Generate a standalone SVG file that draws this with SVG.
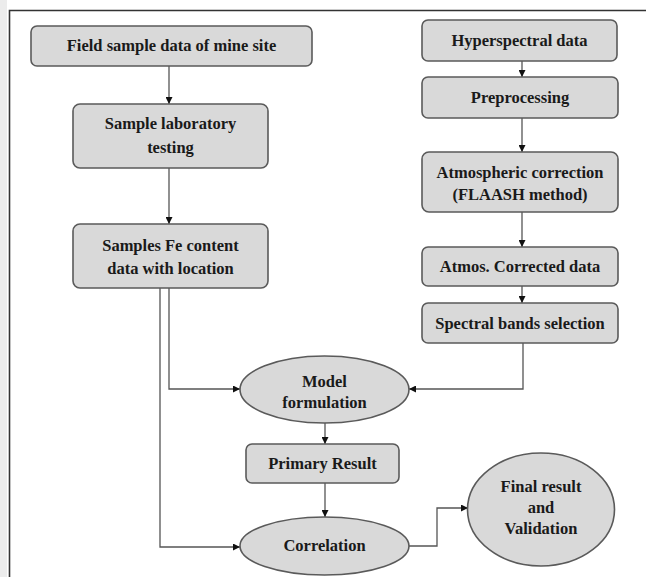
<svg xmlns="http://www.w3.org/2000/svg" width="646" height="577" viewBox="0 0 646 577">
<defs>
<marker id="ah" viewBox="0 0 10 10" refX="10" refY="5" markerWidth="7" markerHeight="7" markerUnits="userSpaceOnUse" orient="auto">
<path d="M0,0 L10,5 L0,10 z" fill="#111"/>
</marker>
</defs>
<style>
.box{fill:#d9d9d9;stroke:#5a5a5a;stroke-width:1.6}
.t{font-family:"Liberation Serif","Times New Roman",serif;font-weight:bold;font-size:16.5px;fill:#1a1a1a;text-anchor:middle}
.c{fill:none;stroke:#555;stroke-width:1.3;marker-end:url(#ah)}
</style>
<rect width="646" height="577" fill="#ffffff"/>
<rect x="0" y="0" width="7" height="577" fill="#ececec"/>
<path d="M9.5,577 V10.5 H646" fill="none" stroke="#333" stroke-width="1.6"/>

<g id="connectors">
<path class="c" d="M169,66 V104"/>
<path class="c" d="M169,168 V224"/>
<path class="c" d="M522,61 V77"/>
<path class="c" d="M522,118 V152"/>
<path class="c" d="M522,212 V247"/>
<path class="c" d="M522,286 V303"/>
<path class="c" d="M169,288 V389 H240"/>
<path class="c" d="M160,288 V547 H240"/>
<path class="c" d="M523,343 V389 H409"/>
<path class="c" d="M325,423 V444"/>
<path class="c" d="M325,483 V517"/>
<path class="c" d="M409,546 H437 V508 H468"/>
</g>

<g id="field">
<rect class="box" x="31" y="26" width="281" height="40" rx="6"/>
<text class="t" x="171.5" y="51">Field sample data of mine site</text>
</g>
<g id="lab">
<rect class="box" x="73" y="104" width="195" height="64" rx="7"/>
<text class="t" x="170.5" y="129">Sample laboratory</text>
<text class="t" x="170.5" y="153">testing</text>
</g>
<g id="fe">
<rect class="box" x="73" y="224" width="195" height="64" rx="7"/>
<text class="t" x="170.5" y="251">Samples Fe content</text>
<text class="t" x="170.5" y="274">data with location</text>
</g>
<g id="hyper">
<rect class="box" x="422" y="20" width="195" height="41" rx="6"/>
<text class="t" x="519.5" y="46">Hyperspectral data</text>
</g>
<g id="prep">
<rect class="box" x="422" y="77" width="196" height="41" rx="6"/>
<text class="t" x="520" y="103">Preprocessing</text>
</g>
<g id="atmcorr">
<rect class="box" x="422" y="152" width="196" height="60" rx="7"/>
<text class="t" x="520" y="178">Atmospheric correction</text>
<text class="t" x="520" y="200">(FLAASH method)</text>
</g>
<g id="atmdata">
<rect class="box" x="422" y="247" width="196" height="39" rx="6"/>
<text class="t" x="520" y="272">Atmos. Corrected data</text>
</g>
<g id="bands">
<rect class="box" x="422" y="303" width="196" height="40" rx="6"/>
<text class="t" x="520" y="329">Spectral bands selection</text>
</g>
<g id="model">
<ellipse class="box" cx="324.5" cy="389.5" rx="84.5" ry="33.5"/>
<text class="t" x="324.5" y="387">Model</text>
<text class="t" x="324.5" y="408">formulation</text>
</g>
<g id="primary">
<rect class="box" x="246" y="444" width="153" height="39" rx="6"/>
<text class="t" x="322.5" y="469">Primary Result</text>
</g>
<g id="corr">
<ellipse class="box" cx="324.5" cy="546" rx="84.5" ry="29"/>
<text class="t" x="324.5" y="551">Correlation</text>
</g>
<g id="final">
<ellipse class="box" cx="541" cy="509.5" rx="73.5" ry="56.5"/>
<text class="t" x="541" y="492">Final result</text>
<text class="t" x="541" y="513">and</text>
<text class="t" x="541" y="534">Validation</text>
</g>
</svg>
